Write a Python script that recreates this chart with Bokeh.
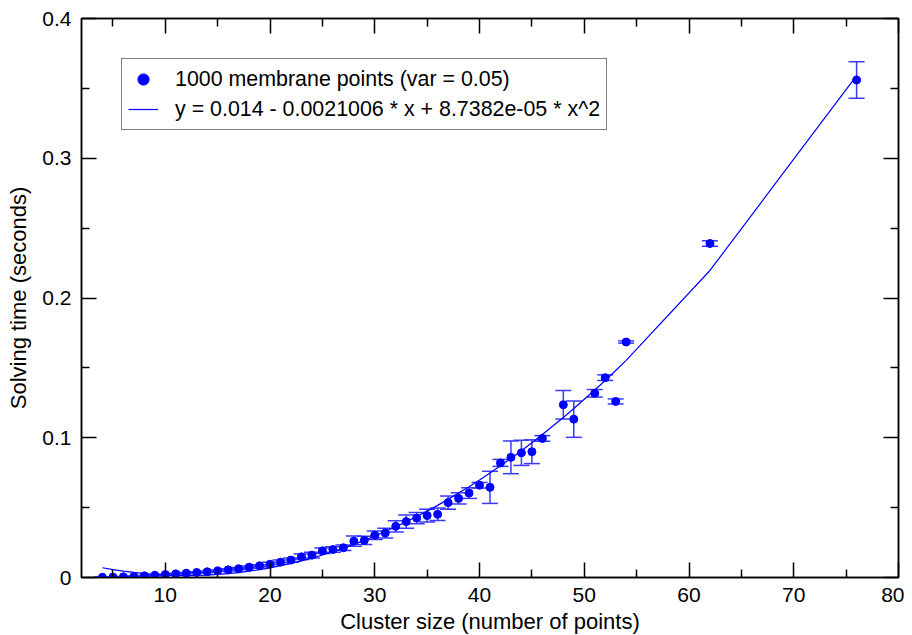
from bokeh.plotting import figure
from bokeh.models import (ColumnDataSource, Whisker, TeeHead, LinearAxis,
                          FixedTicker, Range1d, Legend, LegendItem)
from bokeh.embed import file_html
from bokeh.resources import INLINE

# ---- data ----
cluster_size = [4, 5, 6, 7, 8, 9, 10, 11, 12, 13, 14, 15, 16, 17, 18, 19, 20,
                21, 22, 23, 24, 25, 26, 27, 28, 29, 30, 31, 32, 33, 34, 35, 36,
                37, 38, 39, 40, 41, 42, 43, 44, 45, 46, 48, 49, 51, 52, 53, 54,
                62, 76]
solving_time = [0.0002, 0.0003, 0.0005, 0.0008, 0.0012, 0.0016, 0.0021, 0.0026,
                0.0031, 0.0036, 0.0041, 0.0048, 0.0055, 0.0063, 0.0074, 0.0084,
                0.0095, 0.0110, 0.0125, 0.0148, 0.0160, 0.0191, 0.0200, 0.0213,
                0.0260, 0.0266, 0.0302, 0.0318, 0.0366, 0.0400, 0.0425, 0.0443,
                0.0452, 0.0536, 0.0566, 0.0604, 0.0660, 0.0645, 0.0820, 0.0860,
                0.0892, 0.0900, 0.0995, 0.1236, 0.1133, 0.1318, 0.1430, 0.1260,
                0.1685, 0.2390, 0.3560]
solving_err = [0.0003, 0.0003, 0.0003, 0.0003, 0.0003, 0.0003, 0.0003, 0.0005,
               0.0005, 0.0005, 0.0005, 0.0005, 0.0008, 0.0008, 0.0008, 0.0008,
               0.0015, 0.0015, 0.0015, 0.0020, 0.0020, 0.0020, 0.0020, 0.0020,
               0.0037, 0.0030, 0.0030, 0.0035, 0.0040, 0.0048, 0.0040, 0.0046,
               0.0045, 0.0047, 0.0040, 0.0038, 0.0020, 0.0115, 0.0025, 0.0117,
               0.0090, 0.0085, 0.0020, 0.0102, 0.0130, 0.0027, 0.0020, 0.0018,
               0.0008, 0.0020, 0.0130]
# quadratic fit curve as drawn (polyline through the data sizes)
fit_time = [0.0070, 0.0057, 0.0045, 0.0036, 0.0028, 0.0022, 0.0017, 0.0015,
            0.0014, 0.0015, 0.0017, 0.0022, 0.0028, 0.0035, 0.0045, 0.0056,
            0.0069, 0.0084, 0.0101, 0.0119, 0.0139, 0.0161, 0.0185, 0.0210,
            0.0237, 0.0266, 0.0296, 0.0329, 0.0363, 0.0398, 0.0436, 0.0475,
            0.0516, 0.0559, 0.0604, 0.0650, 0.0698, 0.0748, 0.0799, 0.0852,
            0.0907, 0.0964, 0.1023, 0.1145, 0.1209, 0.1342, 0.1410, 0.1481,
            0.1554, 0.2197, 0.3591]

x_ticks = [10, 20, 30, 40, 50, 60, 70, 80]
x_minor_ticks = [5, 15, 25, 35, 45, 55, 65, 75]
y_ticks = [0, 0.1, 0.2, 0.3, 0.4]
y_minor_ticks = [0.05, 0.15, 0.25, 0.35]
y_tick_labels = ["0", "0.1", "0.2", "0.3", "0.4"]

series_label = "1000 membrane points (var = 0.05)"
fit_label = "y = 0.014 - 0.0021006 * x + 8.7382e-05 * x^2"
x_title = "Cluster size (number of points)"
y_title = "Solving time (seconds)"

FONT = "Liberation Sans"
BLUE = "#0000ff"
BAR = "#3a3aff"

src = ColumnDataSource(data=dict(
    x=cluster_size,
    y=solving_time,
    upper=[v + e for v, e in zip(solving_time, solving_err)],
    lower=[v - e for v, e in zip(solving_time, solving_err)],
    fit=fit_time,
))

p = figure(frame_width=817, frame_height=559,
           x_range=Range1d(2, 80), y_range=Range1d(0, 0.4),
           output_backend="svg", toolbar_location=None,
           min_border_left=81, min_border_top=18, min_border_right=6,
           min_border_bottom=20,
           x_axis_label=x_title, y_axis_label=y_title)
p.grid.visible = False
p.outline_line_color = "black"
p.outline_line_width = 1.5
p.background_fill_color = "white"
p.border_fill_color = "white"


def style_axis(ax, ticks, minor, show_labels=True):
    ax.ticker = FixedTicker(ticks=ticks, minor_ticks=minor)
    ax.axis_line_color = "black"
    ax.axis_line_width = 1.5
    ax.major_tick_in = 15
    ax.major_tick_out = 0
    ax.minor_tick_in = 8
    ax.minor_tick_out = 0
    ax.major_tick_line_width = 1.5
    ax.minor_tick_line_width = 1.5
    ax.major_tick_line_color = "black"
    ax.minor_tick_line_color = "black"
    ax.major_label_text_font = FONT
    ax.major_label_text_font_size = "21px"
    ax.major_label_text_color = "black"
    ax.axis_label_text_font = FONT
    ax.axis_label_text_font_size = "22px"
    ax.axis_label_text_font_style = "normal"
    ax.axis_label_text_color = "black"
    if show_labels:
        ax.major_label_standoff = 10
        ax.axis_label_standoff = 8
    else:
        ax.major_label_overrides = {t: "" for t in ticks}
        ax.major_label_standoff = 0
        ax.axis_label_standoff = 0


style_axis(p.xaxis[0], x_ticks, x_minor_ticks)
p.xaxis[0].axis_label_standoff = 4
style_axis(p.yaxis[0], y_ticks, y_minor_ticks)
p.yaxis[0].major_label_overrides = dict(zip(y_ticks, y_tick_labels))

top_axis = LinearAxis()
style_axis(top_axis, x_ticks, x_minor_ticks, show_labels=False)
p.add_layout(top_axis, "above")
right_axis = LinearAxis()
style_axis(right_axis, y_ticks, y_minor_ticks, show_labels=False)
p.add_layout(right_axis, "right")

whisker = Whisker(source=src, base="x", upper="upper", lower="lower",
                  line_color=BAR, line_width=1.5,
                  upper_head=TeeHead(size=16, line_color=BAR, line_width=1.5),
                  lower_head=TeeHead(size=16, line_color=BAR, line_width=1.5))
p.add_layout(whisker)

fit_r = p.line("x", "fit", source=src, line_color=BLUE, line_width=1.2)
pts_r = p.scatter("x", "y", source=src, marker="circle", size=8,
                  fill_color=BLUE, line_color=BLUE)

legend = Legend(items=[LegendItem(label=series_label, renderers=[pts_r]),
                       LegendItem(label=fit_label, renderers=[fit_r])],
                location="top_left", margin=40, padding=6, spacing=2,
                glyph_width=30, glyph_height=28, label_height=28,
                label_standoff=17,
                label_text_font=FONT, label_text_font_size="21.4px",
                label_text_color="black",
                border_line_color="black", border_line_width=1,
                background_fill_color="white", background_fill_alpha=1)
p.add_layout(legend, "center")

open("out.html", "w").write(file_html(p, INLINE))
